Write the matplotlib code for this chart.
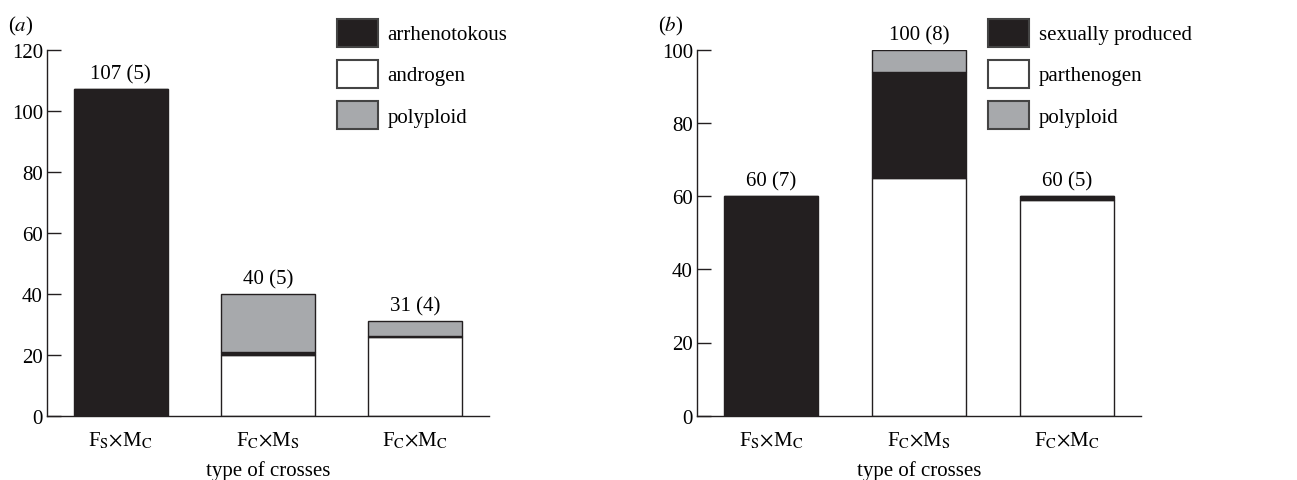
import numpy as np
import matplotlib
matplotlib.use('Agg')
import matplotlib.pyplot as plt
from matplotlib.patches import Patch

plt.rcParams['font.family'] = 'Liberation Serif'
plt.rcParams['mathtext.fontset'] = 'stix'
plt.rcParams['font.size'] = 15

## data ##

crosses = [r'F$_\mathrm{S}$$\times$M$_\mathrm{C}$',
           r'F$_\mathrm{C}$$\times$M$_\mathrm{S}$',
           r'F$_\mathrm{C}$$\times$M$_\mathrm{C}$']

# panel (a)
androgen = [0, 20, 25.7]
arrhenotokous = [107, 1, 0.5]
polyploid_a = [0, 19, 4.8]
labels_a = ['107 (5)', '40 (5)', '31 (4)']

# panel (b)
parthenogen = [0, 65, 59]
sexual = [60, 29, 1]
polyploid_b = [0, 6, 0]
labels_b = ['60 (7)', '100 (8)', '60 (5)']

black = '#231f20'
grey = '#a7a9ac'
white = '#ffffff'

fig = plt.figure(figsize=(12.97, 4.81), dpi=100)
W, H = 1297, 481
ax1 = fig.add_axes([47/W, 1-416.7/H, 442/W, 366/H])
ax2 = fig.add_axes([697/W, 1-416.7/H, 444/W, 366/H])


def stacked(ax, bottom_vals, mid_vals, top_vals, tops, names, ymax, letter):
    x = np.arange(len(crosses))
    w = 0.64
    b1 = np.array(bottom_vals)
    b2 = b1 + np.array(mid_vals)
    ax.bar(x, bottom_vals, w, color=white, edgecolor=black, linewidth=1)
    ax.bar(x, mid_vals, w, bottom=b1, color=black, edgecolor=black, linewidth=1)
    ax.bar(x, top_vals, w, bottom=b2, color=grey, edgecolor=black, linewidth=1)
    totals = b2 + np.array(top_vals)
    for xi, t, lab in zip(x, totals, tops):
        ax.annotate(lab, (xi, t), xytext=(0, 4), textcoords='offset points',
                    ha='center', va='bottom')
    ax.set_xlim(-0.5, 2.5)
    ax.set_ylim(0, ymax)
    ax.set_yticks(np.arange(0, ymax + 1, 20))
    ax.set_xticks(x)
    ax.set_xticklabels(crosses)
    ax.tick_params(axis='y', direction='in', length=10, width=1, color=black, pad=3)
    ax.tick_params(axis='x', length=0, pad=10)
    for s in ['top', 'right']:
        ax.spines[s].set_visible(False)
    for s in ['left', 'bottom']:
        ax.spines[s].set_color(black)
        ax.spines[s].set_linewidth(1)
    ax.set_xlabel('type of crosses', labelpad=7)
    ax.text(-0.088, 1.065, '(' + r'$\it{' + letter + '}$' + ')', transform=ax.transAxes,
            ha='left', va='center')
    handles = [Patch(facecolor=black, edgecolor='#444444', linewidth=1.5),
               Patch(facecolor=white, edgecolor='#444444', linewidth=1.5),
               Patch(facecolor=grey, edgecolor='#444444', linewidth=1.5)]
    ax.legend(handles, names, loc='upper left', bbox_to_anchor=(0.655, 1.085),
              frameon=False, borderpad=0, borderaxespad=0, handlelength=2.0,
              handleheight=1.7, labelspacing=0.62, handletextpad=0.45)


stacked(ax1, androgen, arrhenotokous, polyploid_a, labels_a,
        ['arrhenotokous', 'androgen', 'polyploid'], 120, 'a')
stacked(ax2, parthenogen, sexual, polyploid_b, labels_b,
        ['sexually produced', 'parthenogen', 'polyploid'], 100, 'b')

fig.savefig('out.png', dpi=100)
